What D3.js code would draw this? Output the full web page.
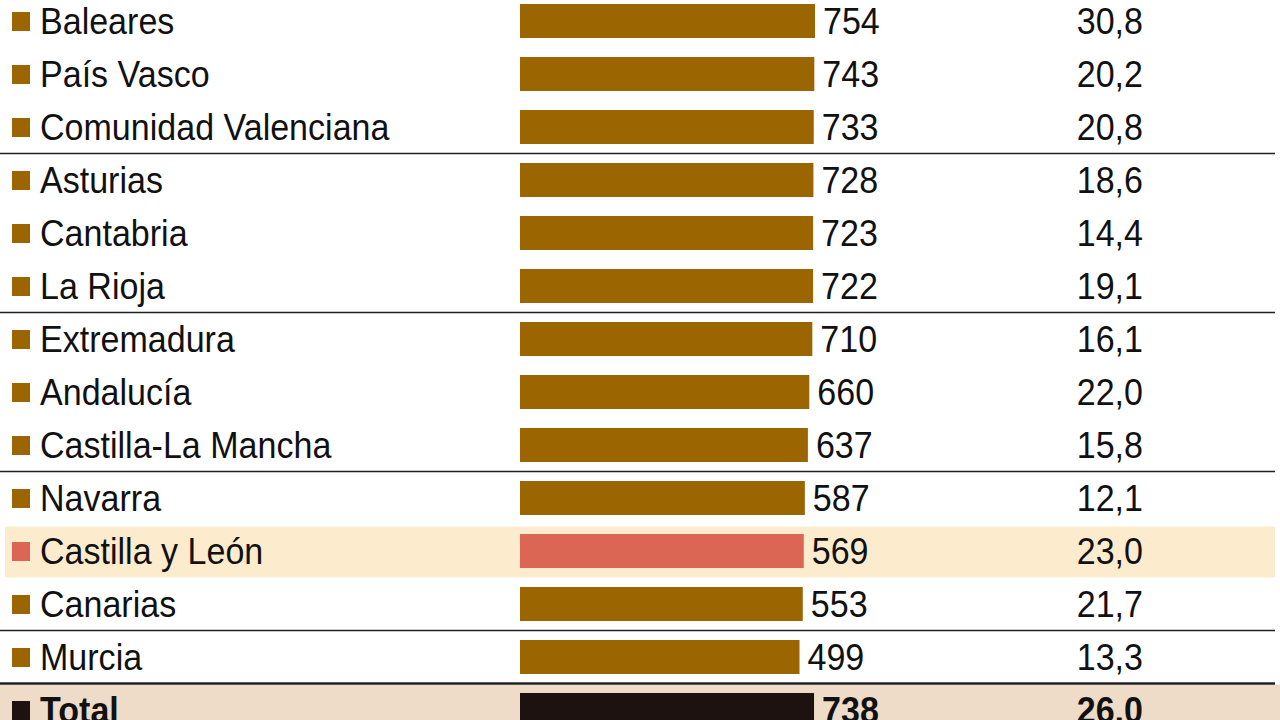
<!DOCTYPE html>
<html><head><meta charset="utf-8">
<script src="https://cdn.jsdelivr.net/npm/d3@7"></script>
<style>body{margin:0;background:#fff}</style></head>
<body><svg id="c" width="1280" height="720"></svg>
<script>
const regions=["Baleares","País Vasco","Comunidad Valenciana","Asturias","Cantabria","La Rioja","Extremadura","Andalucía","Castilla-La Mancha","Navarra","Castilla y León","Canarias","Murcia","Total"];
const values=[754,743,733,728,723,722,710,660,637,587,569,553,499,738];
const pcts=["30,8","20,2","20,8","18,6","14,4","19,1","16,1","22,0","15,8","12,1","23,0","21,7","13,3","26,0"];
const highlight="Castilla y León", total="Total";
const svg=d3.select("#c");
const font="'Liberation Sans Narrow','Arial Narrow','Liberation Sans',sans-serif";
const y=d3.scaleBand().domain(regions).range([-5.5,736.5]).paddingInner(0);
const x=d3.scaleLinear().domain([-4100,754]).range([520,815]);
const sx=0.92;
svg.append("rect").attr("x",5).attr("width",1270).attr("y",y(highlight)+2).attr("height",y.bandwidth()-2).attr("fill","#fcebcd");
svg.append("rect").attr("x",0).attr("width",1280).attr("y",y(total)+1).attr("height",60).attr("fill","#efdcc8");
[3,6,9,12,13].forEach(i=>{
  const yy=y(regions[i]);
  svg.append("line").attr("x1",0).attr("x2",1275).attr("y1",yy).attr("y2",yy).attr("stroke","#222").attr("stroke-width",i===13?2.5:1.5);
});
const col=d=>d===highlight?"#dc6654":d===total?"#1e1210":"#9b6502";
const g=svg.selectAll("g.r").data(regions).join("g").attr("transform",d=>`translate(0,${y(d)+y.bandwidth()/2})`);
g.append("rect").attr("x",12).attr("y",-9).attr("width",18).attr("height",19).attr("fill",col);
function txt(sel,xf,tf,anchor){
  sel.append("text").attr("transform",(d,i)=>`translate(${xf(d,i)},13) scale(${sx},1)`).attr("text-anchor",anchor).text(tf)
   .attr("font-family",font).attr("font-size",37).attr("fill","#111").attr("font-weight",d=>d===total?"bold":"normal");
}
txt(g,()=>40,d=>d,"start");
g.append("rect").attr("x",x(-4100)).attr("y",-17).attr("height",34).attr("width",(d,i)=>x(values[i])-x(-4100)).attr("fill",col);
txt(g,(d,i)=>x(values[i])+8,(d,i)=>values[i],"start");
txt(g,()=>1143,(d,i)=>pcts[i],"end");
</script></body></html>
